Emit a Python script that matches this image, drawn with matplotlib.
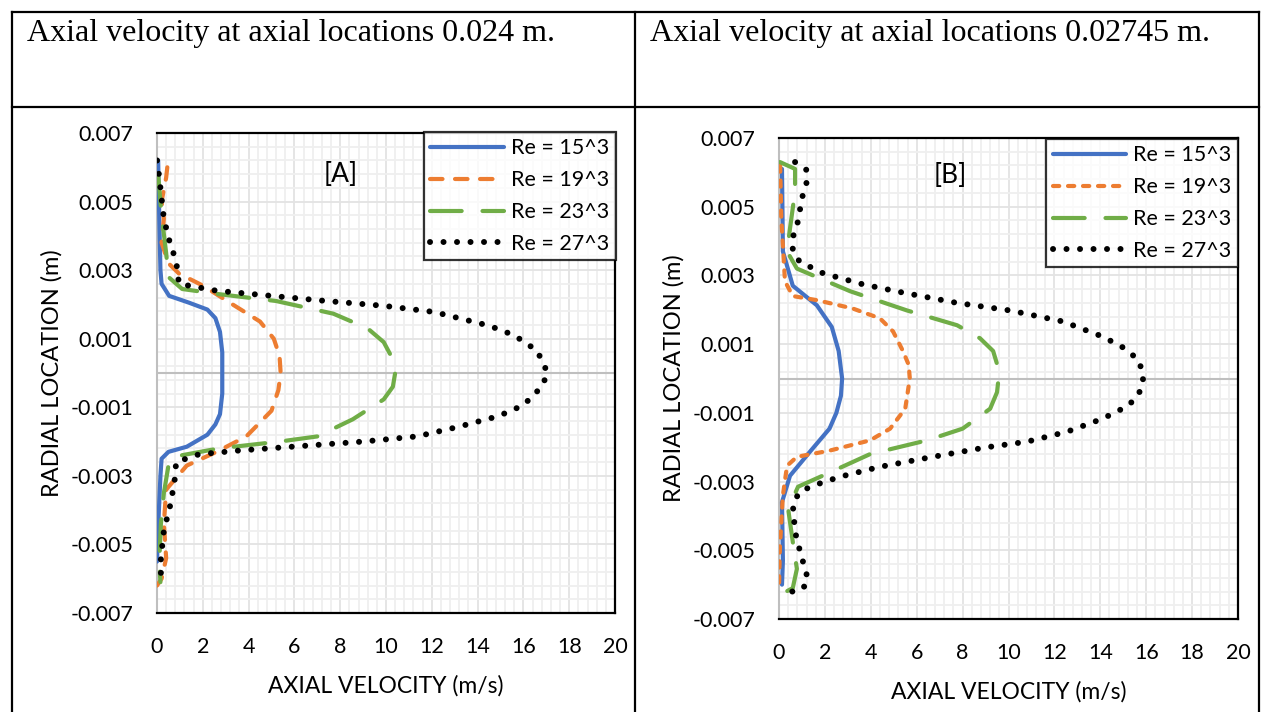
import numpy as np
import matplotlib
matplotlib.use('Agg')
import matplotlib.pyplot as plt
from matplotlib.lines import Line2D
from matplotlib.ticker import MultipleLocator

plt.rcParams['font.family'] = ['Lato', 'DejaVu Sans']

# ---- data: (axial velocity m/s, radial location m)
# [A] axial location 0.024 m
a15_v = [0.05, 0.1, 0.15, 0.2, 0.53, 1.4, 2.2, 2.55, 2.75, 2.85, 2.85, 2.75, 2.55, 2.2, 1.3, 0.5, 0.2, 0.15, 0.05, 0.0]
a15_r = [0.0062, 0.0045, 0.0030, 0.0026, 0.00225, 0.00205, 0.00185, 0.0016, 0.0012, 0.0006, -0.0006, -0.0012,
         -0.0015, -0.0018, -0.00215, -0.0023, -0.0025, -0.0030, -0.0045, -0.0055]
a19_v = [0.45, 0.4, 0.2, 0.3, 0.2, 0.5, 0.96, 2.0, 3.3, 4.5, 5.1, 5.35, 5.4, 5.3, 5.0, 3.9, 2.6, 1.3, 0.4, 0.3,
         0.4, 0.2, 0.0]
a19_r = [0.0060, 0.0057, 0.0050, 0.0045, 0.0038, 0.0032, 0.0029, 0.00255, 0.0020, 0.0015, 0.0010, 0.0005, 0.0,
         -0.0005, -0.0011, -0.00185, -0.0023, -0.0027, -0.0034, -0.0044, -0.0054, -0.0060, -0.0062]
a23_v = [0.05, 0.2, 0.4, 0.5, 1.1, 2.7, 5.2, 7.7, 9.2, 9.9, 10.3, 10.4, 10.3, 9.9, 8.55, 7.0, 5.35, 2.7,
         0.67, 0.5, 0.3, 0.17, 0.1, 0.15]
a23_r = [0.0058, 0.0046, 0.0035, 0.0028, 0.00245, 0.0023, 0.0021, 0.00173, 0.0013, 0.0009, 0.0004, 0.0,
         -0.0004, -0.00077, -0.00135, -0.00185, -0.0020, -0.0022, -0.00245, -0.0027, -0.0035, -0.0044,
         -0.0055, -0.0061]
a27_v = [0.0, 0.1, 0.3, 0.6, 0.83, 0.96, 2.6, 5.0, 7.4, 9.9, 12.1, 14.5, 15.6, 16.6, 17.06, 16.8, 16.0,
         14.9, 13.1, 11.35, 9.0, 6.1, 3.6, 1.84, 0.83, 0.8, 0.6, 0.3, 0.17, 0.17]
a27_r = [0.0062, 0.0057, 0.0045, 0.0037, 0.0033, 0.0026, 0.0024, 0.00225, 0.0021, 0.00196, 0.00178,
         0.00138, 0.0011, 0.00065, 0.0, -0.0004, -0.00094, -0.00126, -0.00158, -0.00185, -0.0020,
         -0.00214, -0.00226, -0.00237, -0.0026, -0.0030, -0.0038, -0.0046, -0.0054, -0.0061]

# [B] axial location 0.02745 m
b15_v = [0.13, 0.17, 0.6, 1.65, 2.3, 2.6, 2.75, 2.7, 2.5, 2.2, 1.35, 0.48, 0.13, 0.17, 0.13]
b15_r = [0.0061, 0.0037, 0.0027, 0.00213, 0.0015, 0.0008, 0.0, -0.0005, -0.001, -0.00146, -0.00213,
         -0.00283, -0.0036, -0.0053, -0.0060]
b19_v = [0.05, 0.1, 0.26, 0.6, 1.65, 3.2, 4.4, 4.97, 5.4, 5.65, 5.7, 5.5, 4.84, 3.97, 2.2, 0.78, 0.35, 0.17,
         0.04, 0.0]
b19_r = [0.0062, 0.00467, 0.00283, 0.0024, 0.00228, 0.00204, 0.00175, 0.00137, 0.0008, 0.0004, 0.0,
         -0.00088, -0.00146, -0.0018, -0.0021, -0.00228, -0.00254, -0.0034, -0.0049, -0.0061]
b23_v = [0.04, 0.7, 0.7, 0.48, 0.35, 0.78, 1.48, 3.1, 5.58, 7.76, 8.76, 9.33, 9.6, 9.5, 9.2, 8.0, 6.45, 3.97,
         2.1, 0.83, 0.4, 0.6, 0.78, 0.6, 0.04]
b23_r = [0.0063, 0.0061, 0.00545, 0.00437, 0.0037, 0.0032, 0.0030, 0.00254, 0.00198, 0.00155, 0.00117,
         0.0008, 0.0002, -0.0004, -0.00088, -0.00146, -0.0018, -0.0022, -0.00277, -0.00315, -0.0038,
         -0.00475, -0.00554, -0.0061, -0.0063]
b27_v = [0.7, 1.2, 1.2, 1.0, 0.83, 0.6, 0.6, 0.9, 1.93, 3.66, 5.4, 7.76, 10.07, 12.37, 14.1, 15.0, 15.6,
         15.86, 15.86, 15.64, 15.2, 14.1, 12.55, 10.8, 9.06, 6.7, 4.4, 2.66, 1.48, 0.9, 0.6, 0.7, 1.0, 1.2,
         1.2, 0.83, 0.17]
b27_r = [0.0063, 0.00607, 0.0057, 0.00525, 0.00458, 0.0041, 0.0037, 0.0034, 0.00306, 0.00274, 0.0025,
         0.0022, 0.00198, 0.00166, 0.00122, 0.0009, 0.00058, 0.0002, -0.00015, -0.0005, -0.0008, -0.00117,
         -0.00155, -0.00184, -0.0020, -0.00228, -0.00257, -0.00286, -0.00312, -0.0033, -0.00365, -0.00446,
         -0.00525, -0.0056, -0.0060, -0.0062, -0.0062]

labels = ['Re = 15^3', 'Re = 19^3', 'Re = 23^3', 'Re = 27^3']
titles = ['Axial velocity at axial locations 0.024 m.', 'Axial velocity at axial locations 0.02745 m.']
xticks = [0, 2, 4, 6, 8, 10, 12, 14, 16, 18, 20]
yticks = [-0.007, -0.005, -0.003, -0.001, 0.001, 0.003, 0.005, 0.007]

W, H = 1262, 712
fig = plt.figure(figsize=(W / 100, H / 100), dpi=100)


def px_axes(x0, y0, x1, y1):
    # pixel box (top-left origin) -> figure axes
    return fig.add_axes([x0 / W, 1 - y1 / H, (x1 - x0) / W, (y1 - y0) / H])


def line(x0, y0, x1, y1):
    fig.add_artist(Line2D([x0 / W, x1 / W], [1 - y0 / H, 1 - y1 / H], transform=fig.transFigure,
                          color='black', lw=1.6))


# table frame
line(12, 12, 1259, 12)
line(12, 107, 1259, 107)
line(12, 12, 12, 712)
line(635, 12, 635, 712)
line(1259, 12, 1259, 712)
fig.text(27 / W, 1 - 33 / H, titles[0], family='Liberation Serif', fontsize=23, va='center', ha='left')
fig.text(650 / W, 1 - 33 / H, titles[1], family='Liberation Serif', fontsize=23, va='center', ha='left')

dot = (0, (0.01, 2.25))


def panel(ax, series, tag, orange_ls, legend_box):
    ax.set_xlim(0, 20)
    ax.set_ylim(-0.007, 0.007)
    ax.xaxis.set_minor_locator(MultipleLocator(0.4))
    ax.set_yticks(yticks)
    ax.set_yticks(np.arange(-0.007, 0.00701, 0.0004), minor=True)
    ax.set_xticks(xticks)
    ax.set_xticklabels([str(t) for t in xticks])
    ax.set_yticklabels(['%.3f' % t for t in yticks])
    ax.grid(which='major', color='#e3e3e3', lw=1.3)
    ax.grid(which='minor', color='#efefef', lw=1.3)
    ax.set_axisbelow(True)
    ax.tick_params(which='both', length=0, labelsize=15.5)
    ax.tick_params(axis='y', pad=17)
    ax.tick_params(axis='x', pad=17)
    for s in ['top', 'right', 'bottom']:
        ax.spines[s].set_color('black')
        ax.spines[s].set_linewidth(1.6)
    ax.spines['left'].set_color('#bfbfbf')
    ax.spines['left'].set_linewidth(1.5)
    ax.axhline(0, color='#bfbfbf', lw=1.5, zorder=1)

    (v15, r15), (v19, r19), (v23, r23), (v27, r27) = series
    ax.plot(v15, r15, color='#4472C4', lw=3.0, solid_capstyle='round', solid_joinstyle='round',
            label=labels[0], zorder=3)
    ax.plot(v19, r19, color='#ED7D31', lw=3.0, ls=orange_ls, dash_capstyle='round', dash_joinstyle='round',
            label=labels[1], zorder=3)
    ax.plot(v23, r23, color='#70AD47', lw=3.0, ls=(0, (7.6, 5)), dash_capstyle='round',
            dash_joinstyle='round', label=labels[2], zorder=3)
    ax.plot(v27, r27, color='black', lw=4.3, ls=dot, dash_capstyle='round', label=labels[3], zorder=4)

    ax.text(tag[1], tag[2], tag[0], fontsize=19, ha='center', va='center')
    leg = ax.legend(loc='upper right', bbox_to_anchor=legend_box, fontsize=15.5, frameon=True, fancybox=False,
                    borderpad=0.3, labelspacing=0.55, handlelength=3.4, handletextpad=0.35,
                    borderaxespad=0)
    leg.get_frame().set_edgecolor('black')
    leg.get_frame().set_linewidth(1.6)
    ax.set_xlabel('AXIAL VELOCITY (m/s)', fontsize=16.5, labelpad=13)
    ax.set_ylabel('RADIAL LOCATION (m)', fontsize=17, labelpad=6)


axA = px_axes(157, 133, 615, 613)
panel(axA, [(a15_v, a15_r), (a19_v, a19_r), (a23_v, a23_r), (a27_v, a27_r)],
      ('[A]', 8.0, 0.0058), (0, (3.0, 3.0)), (1.002, 1.002))

axB = px_axes(779, 138, 1238, 619)
panel(axB, [(b15_v, b15_r), (b19_v, b19_r), (b23_v, b23_r), (b27_v, b27_r)],
      ('[B]', 7.45, 0.0059), (0, (1.5, 2.1)), (1.0, 0.998))

fig.savefig('out.png', dpi=100)
